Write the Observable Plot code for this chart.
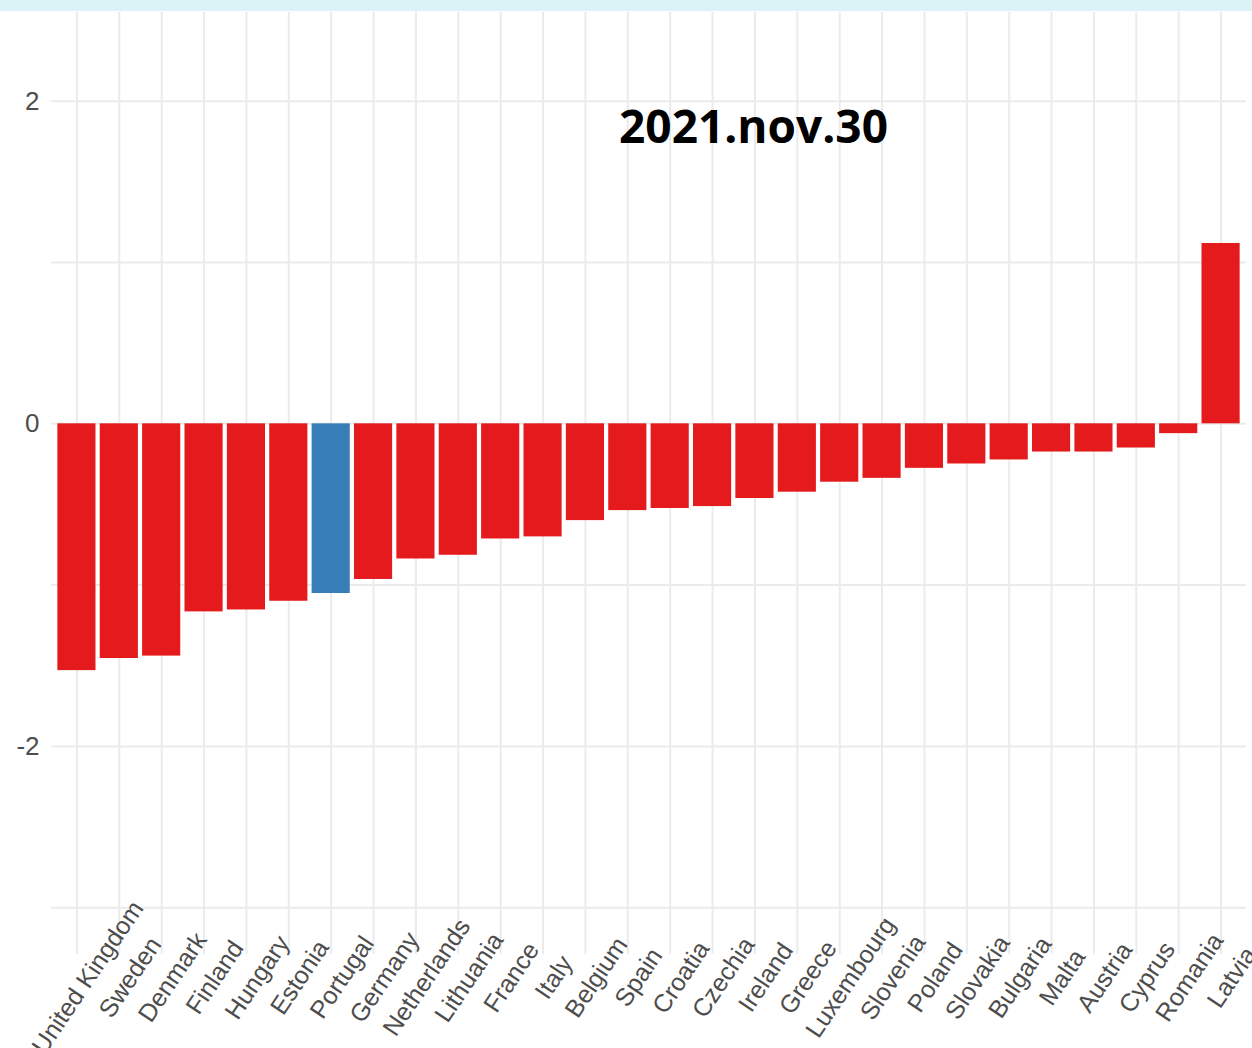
<!DOCTYPE html>
<html><head><meta charset="utf-8">
<script src="https://cdn.jsdelivr.net/npm/d3@7"></script>
<script src="https://cdn.jsdelivr.net/npm/@observablehq/plot@0.6"></script>
<style>
html,body{margin:0;padding:0;background:#fff;overflow:hidden}
#strip{height:11px;background:#dbf3f6}
</style></head><body>
<div id="strip"></div>
<div id="chart"></div>
<script>
const countries = ["United Kingdom","Sweden","Denmark","Finland","Hungary","Estonia","Portugal","Germany","Netherlands","Lithuania","France","Italy","Belgium","Spain","Croatia","Czechia","Ireland","Greece","Luxembourg","Slovenia","Poland","Slovakia","Bulgaria","Malta","Austria","Cyprus","Romania","Latvia"];
const values = [-1.53,-1.455,-1.44,-1.166,-1.154,-1.10,-1.052,-0.965,-0.838,-0.815,-0.714,-0.701,-0.60,-0.538,-0.525,-0.513,-0.463,-0.424,-0.362,-0.338,-0.276,-0.249,-0.224,-0.175,-0.175,-0.15,-0.061,1.118];
const highlight = "Portugal";
const title = "2021.nov.30";
const yTicks = [-2, 0, 2];
const yGrid = [-3, -2, -1, 0, 1, 2];

const data = countries.map((c, i) => ({country: c, value: values[i], group: c === highlight ? "hl" : "other"}));

const chart = Plot.plot({
  width: 1252, height: 1037,
  marginTop: 1, marginBottom: 94, marginLeft: 51, marginRight: 6,
  x: {domain: countries, paddingInner: 0.1, paddingOuter: 0.15, round: false, label: null},
  y: {domain: [-3.29, 2.55], label: null},
  color: {domain: ["other", "hl"], range: ["#e41a1c", "#377eb8"]},
  style: {fontFamily: "'Liberation Sans', Arial, sans-serif", background: "#fff"},
  marks: [
    Plot.gridX({stroke: "#ebebeb", strokeOpacity: 1, strokeWidth: 2}),
    Plot.ruleY(yGrid, {stroke: "#ebebeb", strokeWidth: 2}),
    Plot.barY(data, {x: "country", y: "value", fill: "group"}),
    Plot.axisY(yTicks, {tickSize: 0, tickPadding: 12, fontSize: 26, fill: "#4d4d4d", tickFormat: d => String(d)}),
    Plot.axisX({tickSize: 0, tickRotate: -56, textAnchor: "middle", lineAnchor: "middle", tickPadding: 0, dx: 11, dy: 23, fontSize: 25, fill: "#4d4d4d"}),
    Plot.text([title], {frameAnchor: "top-left", text: d => d, dx: 702, dy: 116, fontSize: 46, fontWeight: 700, fontFamily: "'Open Sans', sans-serif", fill: "#000", textAnchor: "middle", lineAnchor: "middle"})
  ]
});
document.getElementById("chart").appendChild(chart);
</script>
</body></html>
